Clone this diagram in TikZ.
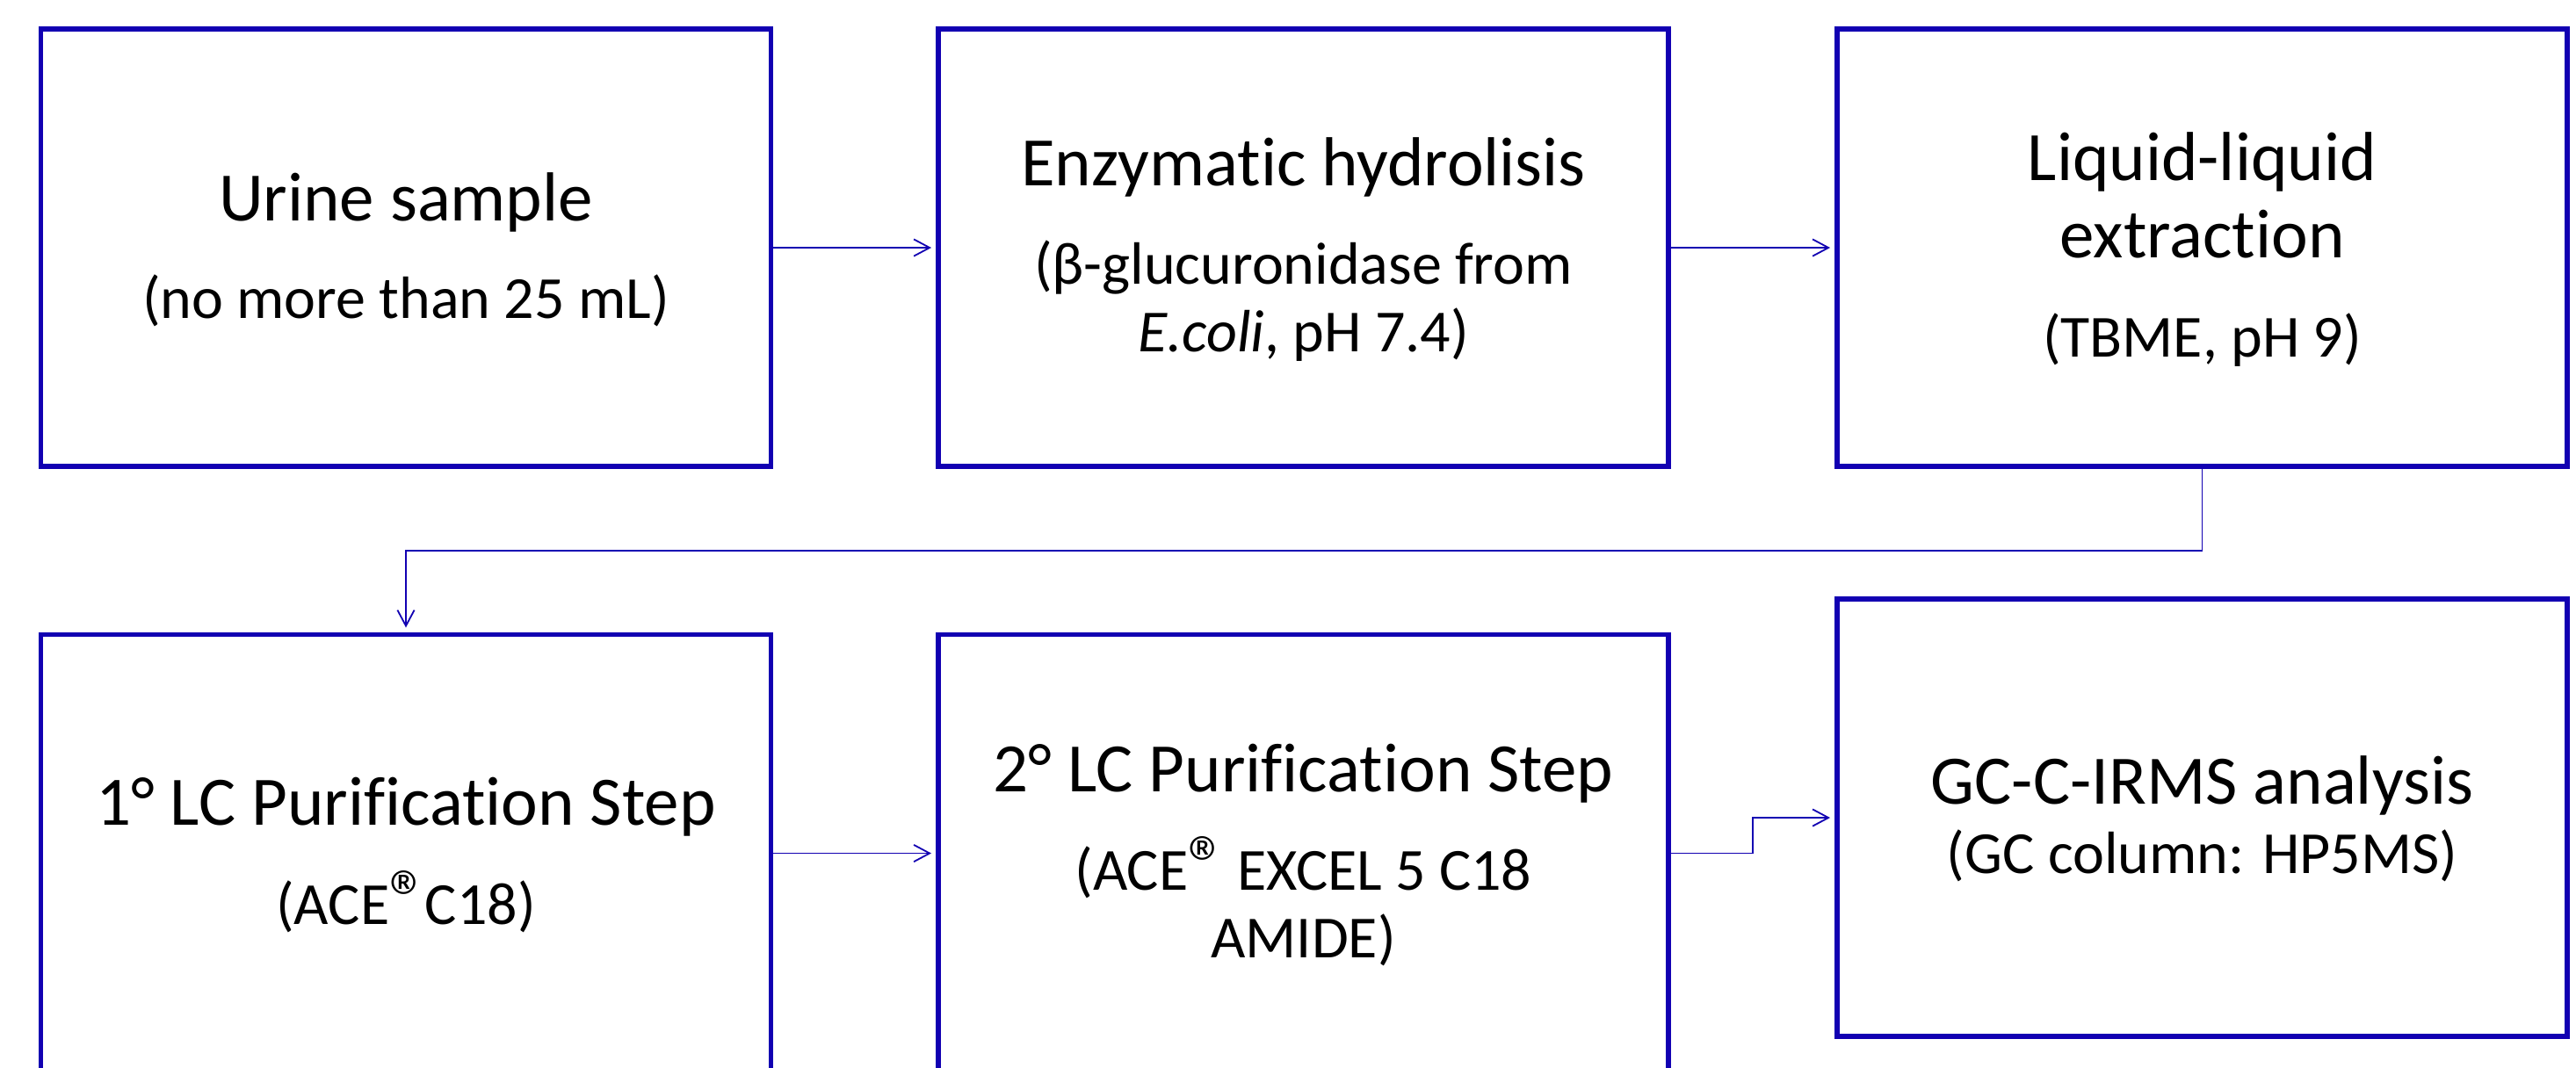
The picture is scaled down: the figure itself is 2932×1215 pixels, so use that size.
\documentclass[tikz,border=0pt]{standalone}
\usepackage{fontspec}
\setmainfont{Carlito}[Ligatures={NoCommon}]
\usetikzlibrary{arrows.meta}
\definecolor{bblue}{RGB}{18,0,178}
\newcommand{\regmark}{\scalebox{1.3}{®}\kern-0.06em}
\begin{document}
\begin{tikzpicture}[x=0.25pt,y=-0.25pt,
  box/.style={draw=bblue,line width=1.4pt,minimum width=207.75pt,minimum height=124.5pt,inner sep=0pt},
  ttl/.style={anchor=base,font=\fontsize{19.75pt}{24pt}\selectfont,inner sep=0pt},
  sub/.style={anchor=base,font=\fontsize{17pt}{20pt}\selectfont,inner sep=0pt},
  conn/.style={draw=bblue,line width=0.45pt,-{Straight Barb[length=4.5pt,width=4.8pt]},shorten >=1.3pt}]
\useasboundingbox (0,0) rectangle (2932,1215);
\clip (0,0) rectangle (2932,1215);
\fill[white] (0,0) rectangle (2932,1215);
% boxes
\node[box] (b1) at (462,282) {};
\node[box] (b2) at (1483.5,282) {};
\node[box] (b3) at (2506.5,282) {};
\node[box] (b4) at (462,971.5) {};
\node[box] (b5) at (1483.5,971.5) {};
\node[box] (b6) at (2506.5,931) {};
% texts
\node[ttl] (t1a) at (462,251) {Urine sample};
\node[sub] (t1b) at (462,362) {(no more than 25 mL)};
\node[ttl] (t2a) at (1483.5,211.7) {Enzymatic hydrolisis};
\node[sub] (t2b) at (1483.5,323) {(β-glucuronidase from};
\node[sub] (t2c) at (1483.5,400) {\textit{E.coli}, pH 7.4)};
\node[ttl] (t3a) at (2506.5,205) {Liquid-liquid};
\node[ttl] (t3b) at (2506.5,293) {extraction};
\node[sub] (t3c) at (2506.5,406) {(TBME, pH 9)};
\node[ttl] (t4a) at (462,939) {1° LC Purification Step};
\node[sub] (t4b) at (462,1052) {(ACE\regmark C18)};
\node[ttl] (t5a) at (1483.5,901) {2° LC Purification Step};
\node[sub] (t5b) at (1483.5,1013.5) {(ACE\regmark{} EXCEL 5 C18};
\node[sub] (t5c) at (1483.5,1090) {AMIDE)};
\node[ttl] (t6a) at (2506.5,915.5) {GC-C-IRMS analysis};
\node[sub] (t6b) at (2506.5,994.5) {(GC column: HP5MS)};
% connectors
\coordinate (m1) at (0,627);
\coordinate (m2) at (1995,0);
\draw[conn] (b1.east) -- (b2.west);
\draw[conn] (b2.east) -- (b3.west);
\draw[conn] (b3.south) -- (b3.south |- m1) -| (b4.north);
\draw[conn] (b4.east) -- (b5.west);
\draw[conn] (b5.east) -- (b5.east -| m2) |- (b6.west);
\end{tikzpicture}
\end{document}
